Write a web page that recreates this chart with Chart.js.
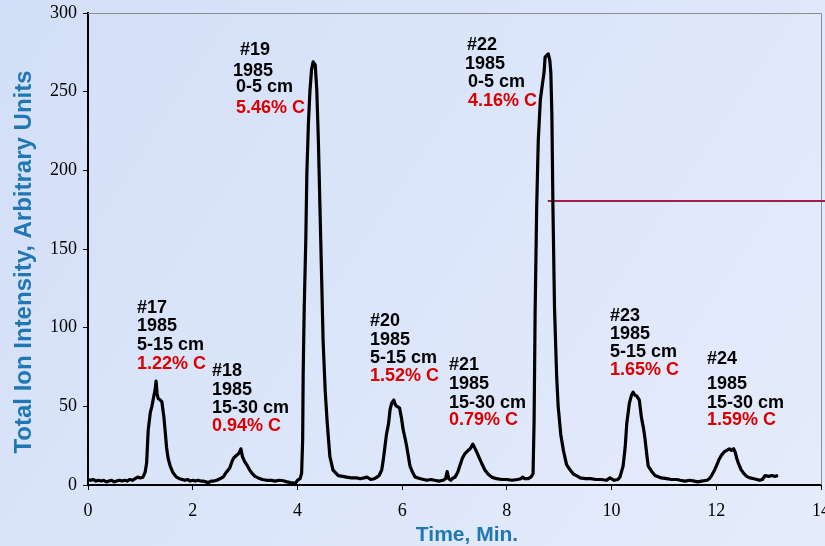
<!DOCTYPE html>
<html>
<head>
<meta charset="utf-8">
<script src="https://cdn.jsdelivr.net/npm/chart.js@4.4.1/dist/chart.umd.min.js"></script>
<style>
  html, body { margin: 0; padding: 0; background: #dde7fa; }
  #wrap { width: 825px; height: 546px; }
</style>
</head>
<body>
<div id="wrap"><canvas id="chartTIC" width="825" height="546"></canvas></div>
<script>
// chromatogram (time in min, intensity in arbitrary units)
const tiempos = [
  0.00, 0.05, 0.10, 0.15, 0.20, 0.25, 0.30, 0.35, 0.40, 0.45, 0.50, 0.55, 0.60, 0.65, 0.70, 0.75, 0.80, 0.85, 0.90, 0.95,
  1.00, 1.05, 1.09, 1.12, 1.15, 1.19, 1.22, 1.26, 1.28, 1.30, 1.32, 1.34, 1.38, 1.41, 1.45, 1.48, 1.50, 1.53, 1.57, 1.62,
  1.69, 1.75, 1.80, 1.85, 1.90, 1.95, 2.00, 2.05, 2.10, 2.15, 2.20, 2.25, 2.30, 2.35, 2.40, 2.46, 2.52, 2.58, 2.64, 2.71,
  2.75, 2.78, 2.84, 2.88, 2.92, 2.95, 2.99, 3.03, 3.08, 3.13, 3.19, 3.25, 3.33, 3.41, 3.50, 3.57, 3.65, 3.73, 3.80, 3.87,
  3.92, 3.96, 4.00, 4.05, 4.08, 4.10, 4.11, 4.13, 4.16, 4.18, 4.21, 4.24, 4.27, 4.30, 4.34, 4.37, 4.40, 4.43, 4.46, 4.49,
  4.53, 4.57, 4.62, 4.68, 4.78, 4.86, 4.94, 5.03, 5.13, 5.20, 5.27, 5.33, 5.40, 5.47, 5.52, 5.56, 5.61, 5.64, 5.67, 5.70,
  5.74, 5.77, 5.80, 5.84, 5.87, 5.90, 5.95, 5.99, 6.02, 6.06, 6.09, 6.12, 6.15, 6.20, 6.25, 6.35, 6.47, 6.55, 6.62, 6.70,
  6.78, 6.83, 6.86, 6.89, 6.93, 6.97, 7.01, 7.06, 7.10, 7.15, 7.20, 7.26, 7.30, 7.35, 7.38, 7.41, 7.45, 7.49, 7.53, 7.58,
  7.64, 7.71, 7.80, 7.90, 8.00, 8.10, 8.20, 8.27, 8.30, 8.34, 8.40, 8.46, 8.50, 8.52, 8.54, 8.57, 8.60, 8.64, 8.68, 8.71,
  8.73, 8.76, 8.79, 8.82, 8.84, 8.86, 8.88, 8.91, 8.95, 8.98, 9.03, 9.08, 9.14, 9.21, 9.27, 9.33, 9.40, 9.50, 9.60, 9.70,
  9.80, 9.90, 9.97, 10.05, 10.12, 10.16, 10.19, 10.22, 10.26, 10.29, 10.34, 10.38, 10.41, 10.45, 10.48, 10.53, 10.57, 10.61, 10.64, 10.67,
  10.70, 10.77, 10.83, 10.95, 11.05, 11.15, 11.25, 11.31, 11.40, 11.50, 11.58, 11.65, 11.72, 11.82, 11.87, 11.91, 11.96, 12.00, 12.05, 12.10,
  12.15, 12.20, 12.25, 12.29, 12.33, 12.36, 12.39, 12.42, 12.47, 12.52, 12.58, 12.64, 12.72, 12.83, 12.88, 12.93, 13.00, 13.06, 13.12, 13.18
];
const intensidad = [
  3.5, 3, 3.5, 2.5, 3, 2.5, 3, 2, 2.5, 3, 2, 2.5, 3, 2.5, 3, 2.5, 3.5, 3, 4, 5,
  4.5, 5, 8, 14, 35, 46, 50, 57, 60, 66, 58, 55, 54, 53, 43, 32, 24, 17, 12, 8,
  5, 4, 3.5, 3, 3.5, 2.5, 3, 2.5, 3, 2.5, 2.5, 2, 1.5, 2.5, 2.5, 3, 4, 5, 8, 11,
  15, 17, 19, 20, 23, 18, 15, 13, 10, 7.5, 5.5, 4.5, 3.5, 3, 3, 2.5, 3, 2.7, 2, 1.5,
  1.3, 1, 3, 4, 7.4, 29, 71, 113, 156, 198, 230, 251, 264, 269, 267, 251, 219, 177, 135, 92,
  60, 39, 18, 9.5, 6, 5.5, 5, 4.5, 4.5, 4, 4.5, 5, 3.5, 4, 5, 6, 9.5, 16, 24, 32,
  39, 48, 52, 54, 51, 50, 49, 42, 35, 29, 24, 18, 12, 8, 5, 4, 3, 3.5, 3, 2.5,
  3, 4, 8.5, 4, 3, 4.5, 5, 8, 12, 17, 20, 22, 23, 26, 24, 22, 19, 16, 13, 9.5,
  7, 5, 4, 3.5, 3.5, 3, 3.5, 4, 5, 4, 4, 5, 7, 40, 110, 177, 219, 245, 255, 262,
  272, 273, 274, 270, 262, 235, 177, 113, 70, 50, 32, 22, 13, 9.5, 7, 6, 4.5, 4, 4, 3.5,
  3.5, 3, 4.5, 3, 3.5, 5, 8.5, 12, 24, 39, 52, 57, 59, 57, 56.6, 54, 43, 36, 29, 20,
  12, 8.5, 6, 4.5, 4, 3.5, 3.5, 3, 2.5, 3, 2.5, 2, 2.5, 3, 4, 6, 9, 12, 16, 19,
  21, 22, 23, 22, 23, 21, 17, 14, 10, 7.5, 5.5, 4.5, 4, 3, 3.5, 6, 5.5, 6, 5.5, 6
];

// horizontal reference line on the right
const lineaRefX = [8.78, 14.1];
const lineaRefY = [180.5, 180.5];

const ticksX = [0, 2, 4, 6, 8, 10, 12, 14];
const ticksY = [0, 50, 100, 150, 200, 250, 300];

// sample labels (each line anchored at time / intensity)
const etiquetas = [
  "#17", "1985", "5-15 cm", "1.22% C",
  "#18", "1985", "15-30 cm", "0.94% C",
  "#19", "1985", "0-5 cm", "5.46% C",
  "#20", "1985", "5-15 cm", "1.52% C",
  "#21", "1985", "15-30 cm", "0.79% C",
  "#22", "1985", "0-5 cm", "4.16% C",
  "#23", "1985", "5-15 cm", "1.65% C",
  "#24", "1985", "15-30 cm", "1.59% C"
];
const etiquetaX = [
  0.936, 0.936, 0.936, 0.936,
  2.368, 2.368, 2.368, 2.368,
  2.903, 2.769, 2.827, 2.827,
  5.386, 5.386, 5.386, 5.386,
  6.895, 6.895, 6.895, 6.895,
  7.238, 7.200, 7.257, 7.257,
  9.969, 9.969, 9.969, 9.969,
  11.822, 11.822, 11.822, 11.822
];
const etiquetaY = [
  109.3, 97.9, 85.8, 73.7,
  69.3, 57.2, 45.8, 34.3,
  273.4, 260.0, 249.8, 236.5,
  101.1, 89.0, 77.6, 66.1,
  73.1, 61.0, 49.0, 38.1,
  276.5, 264.5, 253.0, 241.0,
  104.3, 92.8, 81.4, 69.9,
  76.9, 61.0, 49.0, 38.1
];

const azulTitulo = "#1f78b4";
const rojo = "#d90000";

const fondo = {
  id: "fondo",
  beforeDraw(chart) {
    const { ctx, width, height } = chart;
    const g = ctx.createLinearGradient(0, 0, width, height);
    g.addColorStop(0, "#d3dff8");
    g.addColorStop(1, "#e5ecfb");
    ctx.save();
    ctx.fillStyle = g;
    ctx.fillRect(0, 0, width, height);
    ctx.restore();
  }
};

const marco = {
  id: "marco",
  beforeDatasetsDraw(chart) {
    const { ctx, chartArea } = chart;
    ctx.save();
    ctx.strokeStyle = "#8c8c8c";
    ctx.lineWidth = 1;
    ctx.beginPath();
    ctx.moveTo(chartArea.left, chartArea.top + 0.5);
    ctx.lineTo(chartArea.right + 0.5, chartArea.top + 0.5);
    ctx.lineTo(chartArea.right + 0.5, chartArea.bottom);
    ctx.stroke();
    ctx.restore();
  }
};

const textos = {
  id: "textos",
  afterDatasetsDraw(chart) {
    const { ctx, scales } = chart;
    ctx.save();
    ctx.font = "bold 18px 'Liberation Sans', Arial, sans-serif";
    ctx.textAlign = "left";
    ctx.textBaseline = "alphabetic";
    etiquetas.forEach((txt, i) => {
      ctx.fillStyle = txt.endsWith("% C") ? rojo : "#000";
      ctx.fillText(txt, scales.x.getPixelForValue(etiquetaX[i]), scales.y.getPixelForValue(etiquetaY[i]));
    });

    // axis titles
    ctx.fillStyle = azulTitulo;
    ctx.font = "bold 21px 'Liberation Sans', Arial, sans-serif";
    ctx.textAlign = "center";
    ctx.fillText("Time, Min.", 467, 541);
    ctx.font = "bold 24px 'Liberation Sans', Arial, sans-serif";
    ctx.translate(31, 262);
    ctx.rotate(-Math.PI / 2);
    ctx.fillText("Total Ion Intensity, Arbitrary Units", 0, 0);
    ctx.restore();
  }
};

document.addEventListener("DOMContentLoaded", () => {
  const ctx = document.getElementById("chartTIC");

  const traza = tiempos.map((t, i) => ({ x: t, y: intensidad[i] }));
  const refLinea = lineaRefX.map((t, i) => ({ x: t, y: lineaRefY[i] }));

  const fuenteTicks = { family: "'Liberation Serif', 'Times New Roman', serif", size: 18 };

  new Chart(ctx, {
    type: "line",
    data: {
      datasets: [
        {
          label: "TIC",
          data: traza,
          borderColor: "#000",
          borderWidth: 3.2,
          borderJoinStyle: "round",
          pointRadius: 0,
          tension: 0,
          fill: false
        },
        {
          label: "ref",
          data: refLinea,
          borderColor: "#a61c4a",
          borderWidth: 2,
          pointRadius: 0,
          clip: false,
          fill: false
        }
      ]
    },
    options: {
      responsive: false,
      animation: false,
      devicePixelRatio: 1,
      layout: { padding: { top: 13, right: 4, left: 0, bottom: 0 } },
      plugins: {
        legend: { display: false },
        tooltip: { enabled: false }
      },
      scales: {
        x: {
          type: "linear",
          min: 0,
          max: 14,
          afterBuildTicks: s => { s.ticks = ticksX.map(v => ({ value: v })); },
          ticks: { font: fuenteTicks, color: "#000", padding: 10, maxRotation: 0 },
          grid: { drawOnChartArea: false, drawTicks: true, tickLength: 5, color: "#000" },
          border: { display: true, color: "#000", width: 2 },
          afterFit: s => { s.height = 61; s.paddingLeft = 0; s.paddingRight = 0; }
        },
        y: {
          min: 0,
          max: 300,
          afterBuildTicks: s => { s.ticks = ticksY.map(v => ({ value: v })); },
          ticks: { font: fuenteTicks, color: "#000", padding: 6 },
          grid: { drawOnChartArea: false, drawTicks: true, tickLength: 5, color: "#000" },
          border: { display: true, color: "#000", width: 2 },
          afterFit: s => { s.width = 88; s.paddingTop = 0; s.paddingBottom = 0; }
        }
      }
    },
    plugins: [fondo, marco, textos]
  });
});
</script>
</body>
</html>
